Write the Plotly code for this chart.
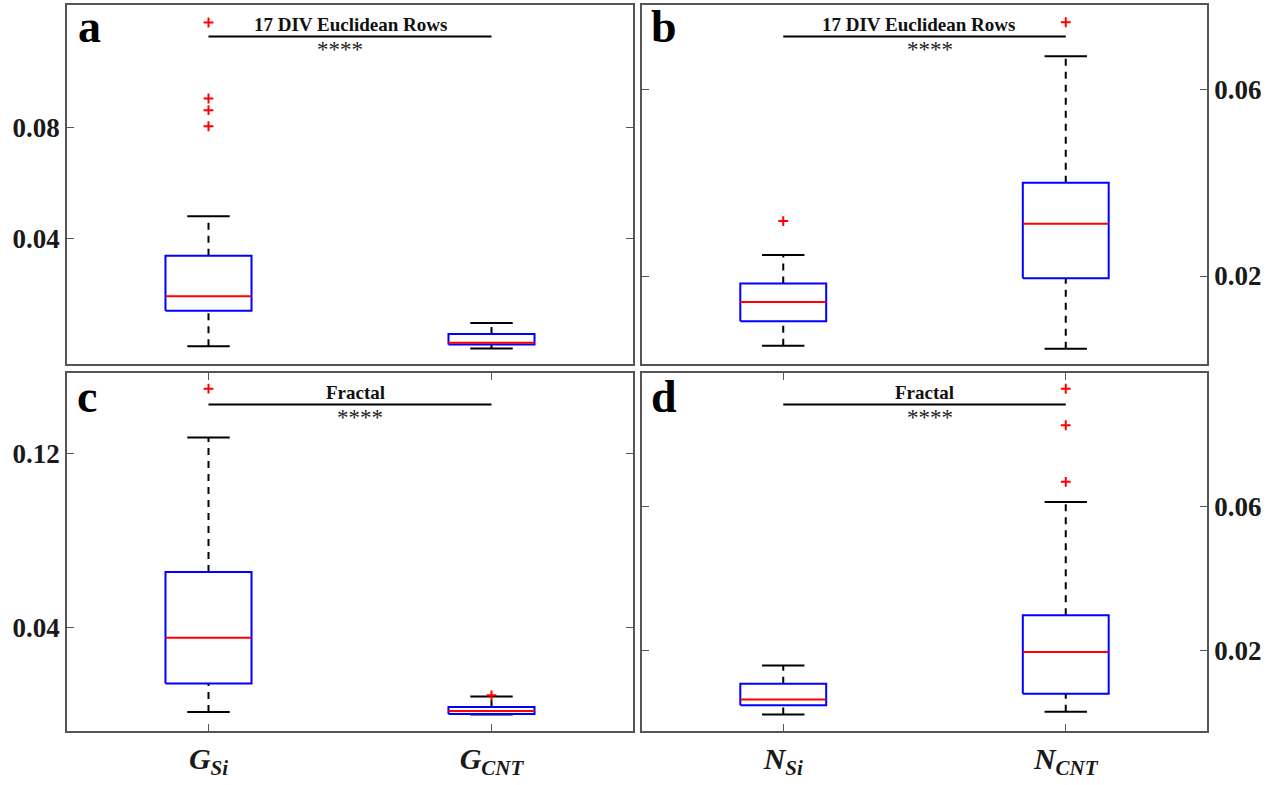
import plotly.graph_objects as go

W, H = 1274, 785
FONT = "Liberation Serif"

# ---------------- data ----------------
cats_G = ["G<sub>Si</sub>", "G<sub>CNT</sub>"]
cats_N = ["N<sub>Si</sub>", "N<sub>CNT</sub>"]

# panel a : 17 DIV Euclidean Rows, G
a_lower = [0.0013, 0.0005]
a_q1 = [0.0141, 0.0019]
a_median = [0.0193, 0.0026]
a_q3 = [0.0339, 0.0057]
a_upper = [0.0482, 0.0097]
a_outliers = [[0.1180, 0.0906, 0.0864, 0.0806], []]

# panel b : 17 DIV Euclidean Rows, N
b_lower = [0.0050, 0.0044]
b_q1 = [0.0103, 0.0195]
b_median = [0.0144, 0.0312]
b_q3 = [0.0184, 0.0400]
b_upper = [0.0245, 0.0672]
b_outliers = [[0.0318], [0.0745]]

# panel c : Fractal, G
c_lower = [0.0012, 0.0001]
c_q1 = [0.0144, 0.0003]
c_median = [0.0354, 0.0017]
c_q3 = [0.0657, 0.0035]
c_upper = [0.1275, 0.0084]
c_outliers = [[0.1500], [0.0089]]

# panel d : Fractal, N
d_lower = [0.0020, 0.0028]
d_q1 = [0.0046, 0.0078]
d_median = [0.0062, 0.0195]
d_q3 = [0.0106, 0.0297]
d_upper = [0.0157, 0.0614]
d_outliers = [[], [0.0930, 0.0828, 0.0670]]

titles = ["17 DIV Euclidean Rows", "17 DIV Euclidean Rows", "Fractal", "Fractal"]
letters = ["a", "b", "c", "d"]
stars = "****"

yticks_a = [0.04, 0.08]
yticks_b = [0.02, 0.06]
yticks_c = [0.04, 0.12]
yticks_d = [0.02, 0.06]
yrange_a = [-0.0051, 0.1243]
yrange_b = [0.0011, 0.0782]
yrange_c = [-0.0075, 0.1572]
yrange_d = [-0.0026, 0.0974]

# ---------------- figure ----------------
fig = go.Figure()

BOX_HW = 0.152
CAP_HW = 0.075


def add_boxes(xa, ya, lower, q1, med, q3, upper, outl):
    xs = [1, 2]
    # whiskers (dashed)
    wx, wy = [], []
    for i, x in enumerate(xs):
        wx += [x, x, None, x, x, None]
        wy += [q3[i], upper[i], None, lower[i], q1[i], None]
    fig.add_trace(go.Scatter(x=wx, y=wy, mode="lines", xaxis=xa, yaxis=ya,
                             line=dict(color="black", width=2, dash="7px,6px"),
                             showlegend=False, hoverinfo="skip"))
    # caps
    cx, cy = [], []
    for i, x in enumerate(xs):
        cx += [x - CAP_HW, x + CAP_HW, None, x - CAP_HW, x + CAP_HW, None]
        cy += [upper[i], upper[i], None, lower[i], lower[i], None]
    fig.add_trace(go.Scatter(x=cx, y=cy, mode="lines", xaxis=xa, yaxis=ya,
                             line=dict(color="black", width=2),
                             showlegend=False, hoverinfo="skip"))
    # boxes
    bx, by = [], []
    for i, x in enumerate(xs):
        bx += [x - BOX_HW, x + BOX_HW, x + BOX_HW, x - BOX_HW, x - BOX_HW, None]
        by += [q1[i], q1[i], q3[i], q3[i], q1[i], None]
    fig.add_trace(go.Scatter(x=bx, y=by, mode="lines", xaxis=xa, yaxis=ya,
                             line=dict(color="#0000ff", width=2),
                             showlegend=False, hoverinfo="skip"))
    # medians
    mx, my = [], []
    for i, x in enumerate(xs):
        mx += [x - BOX_HW, x + BOX_HW, None]
        my += [med[i], med[i], None]
    fig.add_trace(go.Scatter(x=mx, y=my, mode="lines", xaxis=xa, yaxis=ya,
                             line=dict(color="#ff0000", width=2),
                             showlegend=False, hoverinfo="skip"))
    # outliers
    ox, oy = [], []
    for i, x in enumerate(xs):
        for v in outl[i]:
            ox.append(x)
            oy.append(v)
    fig.add_trace(go.Scatter(x=ox, y=oy, mode="markers", xaxis=xa, yaxis=ya,
                             marker=dict(symbol="cross-thin", size=7,
                                         line=dict(color="#ff0000", width=2)),
                             showlegend=False, hoverinfo="skip"))


add_boxes("x", "y", a_lower, a_q1, a_median, a_q3, a_upper, a_outliers)
add_boxes("x2", "y2", b_lower, b_q1, b_median, b_q3, b_upper, b_outliers)
add_boxes("x3", "y3", c_lower, c_q1, c_median, c_q3, c_upper, c_outliers)
add_boxes("x4", "y4", d_lower, d_q1, d_median, d_q3, d_upper, d_outliers)


# domains (pixel -> paper)
def px(x):
    return x / W


def py(y):
    return 1 - y / H


LX = [px(67), px(633)]
RX = [px(642), px(1207)]
TY = [py(364), py(5)]
BY = [py(731), py(373)]

frame = dict(showline=True, mirror=True, linecolor="#555555", linewidth=1.5,
             showgrid=False, zeroline=False)
tickfont_y = dict(family=FONT, size=27, color="#1a1a1a", weight="bold")
tickfont_x = dict(family=FONT, size=30, color="#1a1a1a", weight="bold", style="italic")


def xaxis(dom, anchor, cats=None):
    d = dict(domain=dom, anchor=anchor, range=[0.5, 2.5], **frame)
    if cats is None:
        d.update(tickvals=[1, 2], ticks="", showticklabels=False)
    else:
        d.update(tickvals=[1, 2], ticktext=cats, ticks="inside", ticklen=7,
                 tickwidth=1.2, tickcolor="#555555", mirror="allticks",
                 tickfont=tickfont_x)
    return d


def yaxis(dom, anchor, rng, tv, side):
    return dict(domain=dom, anchor=anchor, range=rng, side=side,
                tickvals=tv, ticktext=[f"{v:.2f}" for v in tv],
                ticks="inside", ticklen=7, tickwidth=1.2, tickcolor="#555555",
                tickfont=tickfont_y, **{**frame, "mirror": "allticks"})


fig.update_layout(
    width=W, height=H,
    margin=dict(l=0, r=0, t=0, b=0),
    paper_bgcolor="white", plot_bgcolor="white",
    showlegend=False,
    xaxis=xaxis(LX, "y"),
    yaxis=yaxis(TY, "x", yrange_a, yticks_a, "left"),
    xaxis2=xaxis(RX, "y2"),
    yaxis2=yaxis(TY, "x2", yrange_b, yticks_b, "right"),
    xaxis3=xaxis(LX, "y3", cats_G),
    yaxis3=yaxis(BY, "x3", yrange_c, yticks_c, "left"),
    xaxis4=xaxis(RX, "y4", cats_N),
    yaxis4=yaxis(BY, "x4", yrange_d, yticks_d, "right"),
)

# significance bars, titles, stars
title_x = [1.50, 1.48, 1.52, 1.50]
star_x = [1.465, 1.52, 1.535, 1.52]
axes = [("x", "y"), ("x2", "y2"), ("x3", "y3"), ("x4", "y4")]
for k, (xa, ya) in enumerate(axes):
    fig.add_shape(type="line", xref=xa, yref=f"{ya} domain",
                  x0=1, x1=2, y0=0.912, y1=0.912,
                  line=dict(color="black", width=2))
    fig.add_annotation(xref=xa, yref=f"{ya} domain", x=title_x[k], y=0.946,
                       text=f"<b>{titles[k]}</b>", showarrow=False,
                       font=dict(family=FONT, size=19, color="#111111"),
                       xanchor="center", yanchor="middle")
    fig.add_annotation(xref=xa, yref=f"{ya} domain", x=star_x[k], y=0.875,
                       text=stars, showarrow=False,
                       font=dict(family=FONT, size=23, color="#222222"),
                       xanchor="center", yanchor="middle")

# panel letters
letter_pos = [(76, 27), (649, 27), (75, 396), (649, 396)]
for k, (lx, ly) in enumerate(letter_pos):
    fig.add_annotation(xref="paper", yref="paper", x=px(lx), y=py(ly),
                       text=f"<b>{letters[k]}</b>", showarrow=False,
                       font=dict(family=FONT, size=46, color="black"),
                       xanchor="left", yanchor="middle")

fig.write_html("out.html")
